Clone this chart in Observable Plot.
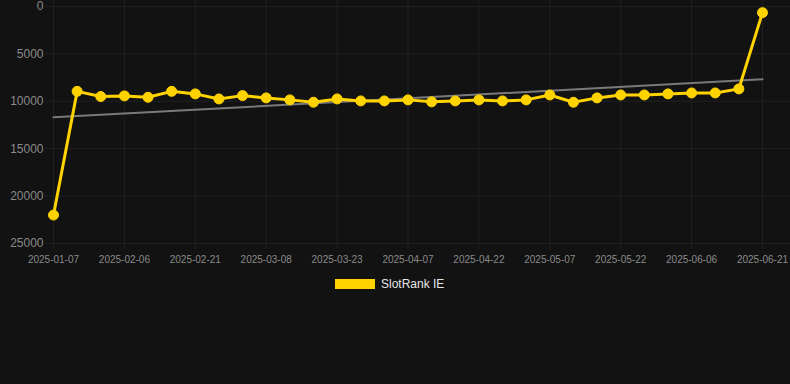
<!DOCTYPE html>
<html><head><meta charset="utf-8">
<script src="https://cdn.jsdelivr.net/npm/d3@7"></script>
<script src="https://cdn.jsdelivr.net/npm/@observablehq/plot@0.6"></script>
<style>
html,body{margin:0;padding:0;background:#121212;}
body{width:790px;height:384px;overflow:hidden;position:relative;font-family:"Liberation Sans",Arial,sans-serif;}
#legend{position:absolute;left:335px;top:279px;display:flex;align-items:center;height:10px;}
#legend .sw{width:40px;height:10px;background:#FFD300;}
#legend .lb{margin-left:6px;color:#e6e6e6;font-size:12px;line-height:10px;}
</style></head>
<body>
<div id="chart"></div>
<div id="legend"><span class="sw"></span><span class="lb">SlotRank IE</span></div>
<script>
const dates = ["2025-01-07","2025-01-27","2025-02-01","2025-02-06","2025-02-11","2025-02-16","2025-02-21","2025-02-26","2025-03-03","2025-03-08","2025-03-13","2025-03-18","2025-03-23","2025-03-28","2025-04-02","2025-04-07","2025-04-12","2025-04-17","2025-04-22","2025-04-27","2025-05-02","2025-05-07","2025-05-12","2025-05-17","2025-05-22","2025-05-27","2025-06-01","2025-06-06","2025-06-11","2025-06-16","2025-06-21"];
const ranks = [22000, 8950, 9500, 9430, 9580, 8950, 9220, 9750, 9400, 9640, 9850, 10100, 9750, 9960, 9960, 9850, 10060, 9960, 9850, 9960, 9850, 9330, 10100, 9640, 9330, 9330, 9220, 9120, 9120, 8690, 650];
const yTicks = [0, 5000, 10000, 15000, 20000, 25000];
const xTickIdx = [0, 3, 6, 9, 12, 15, 18, 21, 24, 27, 30];
const seriesName = "SlotRank IE";

const data = ranks.map((v, i) => ({i, v, date: dates[i]}));
const gridColor = "#202020";

const chart = Plot.plot({
  width: 790,
  height: 270,
  marginLeft: 53,
  marginRight: 28,
  marginTop: 6,
  marginBottom: 27,
  style: {background: "#121212", fontFamily: '"Liberation Sans", Arial, sans-serif'},
  x: {type: "linear", domain: [0, dates.length - 1]},
  y: {domain: [0, 25000], reverse: true},
  marks: [
    Plot.gridX(xTickIdx, {stroke: gridColor, strokeOpacity: 1, insetTop: -6}),
    Plot.gridY(yTicks, {stroke: gridColor, strokeOpacity: 1, insetLeft: -8, insetRight: -28}),
    Plot.axisY(yTicks, {tickSize: 0, tickPadding: 10, fill: "#8a8a8a", fontSize: 12, tickFormat: d => String(d), label: null}),
    Plot.axisX(xTickIdx, {tickSize: 6, stroke: gridColor, tickPadding: 6, fill: "#8a8a8a", fontSize: 10, tickFormat: i => dates[i], label: null}),
    Plot.linearRegressionY(data, {x: "i", y: "v", ci: 0, stroke: "#7a7a7a", strokeWidth: 2}),
    Plot.line(data, {x: "i", y: "v", stroke: "#FFD300", strokeWidth: 3}),
    Plot.dot(data, {x: "i", y: "v", r: 5, fill: "#FFD300", stroke: "#FFD300", strokeWidth: 1})
  ]
});
document.getElementById("chart").appendChild(chart);
</script>
</body></html>
